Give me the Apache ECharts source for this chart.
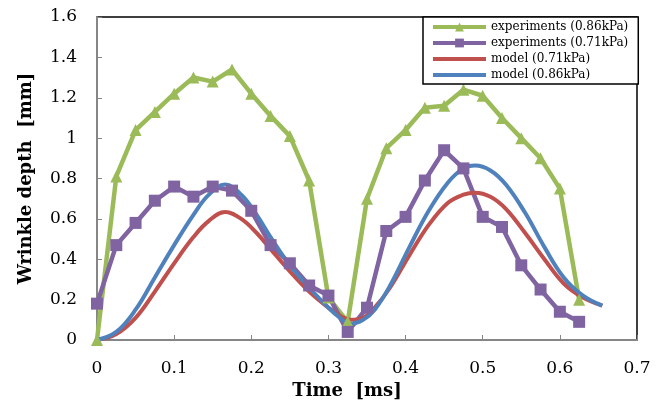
<!DOCTYPE html>
<html>
<head>
<meta charset="utf-8">
<script src="https://cdn.jsdelivr.net/npm/echarts@6/dist/echarts.min.js"></script>
<style>
  html, body { margin: 0; padding: 0; background: #fff; }
  #main { width: 668px; height: 405px; }
</style>
</head>
<body>
<div id="main"></div>
<script>
// experiment times (ms), every 0.025
const expTimes = [0, 0.025, 0.05, 0.075, 0.1, 0.125, 0.15, 0.175, 0.2, 0.225, 0.25, 0.275, 0.3,
  0.325, 0.35, 0.375, 0.4, 0.425, 0.45, 0.475, 0.5, 0.525, 0.55, 0.575, 0.6, 0.625];
const exp086 = [0, 0.81, 1.04, 1.13, 1.22, 1.30, 1.28, 1.34, 1.22, 1.11, 1.01, 0.79, 0.21,
  0.09, 0.70, 0.95, 1.04, 1.15, 1.16, 1.24, 1.21, 1.10, 1.00, 0.90, 0.75, 0.20];
const exp071 = [0.18, 0.47, 0.58, 0.69, 0.76, 0.71, 0.76, 0.74, 0.64, 0.47, 0.38, 0.27, 0.22,
  0.04, 0.16, 0.54, 0.61, 0.79, 0.94, 0.85, 0.61, 0.56, 0.37, 0.25, 0.14, 0.09];

// model curves (denser near peaks and the dip)
const modelTimes = [0, 0.025, 0.05, 0.075, 0.1, 0.125, 0.145, 0.166, 0.187, 0.207, 0.225, 0.25,
  0.275, 0.3, 0.315, 0.328, 0.345, 0.36, 0.38, 0.405, 0.43, 0.455, 0.475, 0.49, 0.51, 0.53,
  0.555, 0.58, 0.605, 0.63, 0.655];
const model071 = [0, 0.03, 0.11, 0.24, 0.38, 0.51, 0.59, 0.634, 0.60, 0.53, 0.45, 0.34,
  0.24, 0.16, 0.12, 0.10, 0.11, 0.16, 0.26, 0.42, 0.57, 0.68, 0.72, 0.73, 0.71, 0.65,
  0.53, 0.40, 0.28, 0.21, 0.17];
const model086 = [0, 0.04, 0.15, 0.31, 0.47, 0.62, 0.72, 0.77, 0.72, 0.62, 0.51, 0.37,
  0.26, 0.16, 0.11, 0.08, 0.10, 0.15, 0.27, 0.46, 0.64, 0.78, 0.85, 0.864, 0.84, 0.77,
  0.63, 0.46, 0.31, 0.22, 0.17];

const seriesNames = ['experiments (0.86kPa)', 'experiments (0.71kPa)', 'model (0.71kPa)', 'model (0.86kPa)'];

const pairs = (xs, ys) => xs.map((x, i) => [x, ys[i]]);
const fmt = v => String(Math.round(v * 10) / 10);
const font = 'DejaVu Serif';

const myChart = echarts.init(document.getElementById('main'));

myChart.setOption({
  animation: false,
  textStyle: { fontFamily: font },
  grid: {
    left: 97, right: 31, top: 17, bottom: 65,
    show: true, borderColor: '#000', borderWidth: 1.5
  },
  legend: {
    left: 423, top: 17,
    orient: 'vertical',
    backgroundColor: '#fff',
    borderColor: '#000', borderWidth: 1.5, borderRadius: 0,
    padding: [4, 10, 3, 8],
    itemWidth: 53, itemHeight: 11, itemGap: 4,
    lineStyle: { width: 4 },
    textStyle: { fontFamily: font, fontSize: 12, color: '#000' },
    data: [
      seriesNames[0],
      seriesNames[1],
      { name: seriesNames[2], itemStyle: { opacity: 0 } },
      { name: seriesNames[3], itemStyle: { opacity: 0 } }
    ]
  },
  xAxis: {
    type: 'value', min: 0, max: 0.7, interval: 0.1,
    name: 'Time  [ms]', nameLocation: 'middle', nameGap: 40,
    nameTextStyle: { fontFamily: font, fontWeight: 'bold', fontSize: 18, color: '#000', padding: [0, 40, 0, 0] },
    axisLine: { lineStyle: { color: '#868686', width: 2 } },
    axisTick: { inside: true, length: 5, lineStyle: { color: '#868686' } },
    axisLabel: { fontFamily: font, fontSize: 17, color: '#000', margin: 20, formatter: fmt },
    splitLine: { show: false }
  },
  yAxis: {
    type: 'value', min: 0, max: 1.6, interval: 0.2,
    name: 'Wrinkle depth  [mm]', nameLocation: 'middle', nameGap: 62,
    nameTextStyle: { fontFamily: font, fontWeight: 'bold', fontSize: 18, color: '#000' },
    axisLine: { show: true, lineStyle: { color: '#868686', width: 2 } },
    axisTick: { show: true, inside: true, length: 5, lineStyle: { color: '#868686' } },
    axisLabel: { fontFamily: font, fontSize: 17, color: '#000', margin: 20, formatter: fmt },
    splitLine: { show: false }
  },
  series: [
    {
      name: seriesNames[0], type: 'line', data: pairs(expTimes, exp086),
      symbol: 'triangle', symbolSize: 12, color: '#9BBB59',
      lineStyle: { width: 4.5 }
    },
    {
      name: seriesNames[1], type: 'line', data: pairs(expTimes, exp071),
      symbol: 'rect', symbolSize: 12, color: '#8064A2',
      lineStyle: { width: 4.5 }
    },
    {
      name: seriesNames[2], type: 'line', data: pairs(modelTimes, model071),
      symbol: 'none', smooth: 0.4, color: '#C0504D',
      lineStyle: { width: 4 }
    },
    {
      name: seriesNames[3], type: 'line', data: pairs(modelTimes, model086),
      symbol: 'none', smooth: 0.4, color: '#4F81BD',
      lineStyle: { width: 4 }
    }
  ]
});
</script>
</body>
</html>
